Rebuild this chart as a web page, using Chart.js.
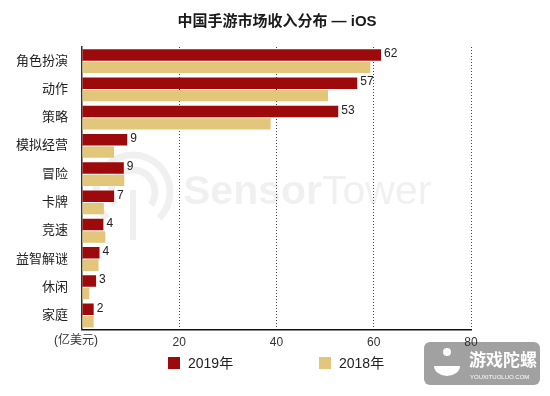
<!DOCTYPE html>
<html>
<head>
<meta charset="utf-8">
<script src="https://cdn.jsdelivr.net/npm/chart.js@4/dist/chart.umd.min.js"></script>
<style>
  html, body { margin: 0; padding: 0; background: #fff; }
  #wrap { width: 550px; height: 396px; position: relative; }
</style>
</head>
<body>
<div id="wrap"><canvas id="iosChart"></canvas></div>
<script>
// data (亿美元)
const categories = ['角色扮演', '动作', '策略', '模拟经营', '冒险', '卡牌', '竞速', '益智解谜', '休闲', '家庭'];
const revenue2019 = [61.5, 56.6, 52.7, 9.3, 8.6, 6.6, 4.4, 3.6, 2.9, 2.4];
const revenue2018 = [59.3, 50.6, 38.8, 6.6, 8.7, 4.5, 4.8, 3.4, 1.5, 2.4];
const labels2019 = [62, 57, 53, 9, 9, 7, 4, 4, 3, 2];
const xTicks = [20, 40, 60, 80];
const seriesNames = ['2019年', '2018年'];
const seriesColors = ['#9c0a0c', '#e2c67c'];
const titleText = '中国手游市场收入分布 — iOS';
const unitText = '(亿美元)';

const FONT = '"Liberation Sans", "Noto Sans CJK SC", sans-serif';

// value labels at the end of the 2019 bars
const valueLabels = {
    id: 'valueLabels',
    afterDatasetsDraw(chart) {
        const ctx = chart.ctx;
        const meta = chart.getDatasetMeta(0);
        ctx.save();
        ctx.font = '12px ' + FONT;
        ctx.fillStyle = '#222';
        ctx.textAlign = 'left';
        ctx.textBaseline = 'middle';
        meta.data.forEach(function(bar, i) {
            ctx.fillText(labels2019[i], bar.x + 3, bar.y - 1);
        });
        ctx.restore();
    }
};

// title, unit label, legend, watermarks
const extras = {
    id: 'extras',
    beforeDraw(chart) {
        const ctx = chart.ctx;
        ctx.save();
        // 游戏陀螺 badge (under the tick labels)
        ctx.fillStyle = 'rgba(140,140,140,0.82)';
        ctx.beginPath();
        ctx.roundRect(424, 342, 116, 43, 6);
        ctx.fill();
        ctx.fillStyle = '#fff';
        ctx.beginPath();
        ctx.ellipse(447, 366, 13, 10, 0, 0, Math.PI);
        ctx.fill();
        ctx.beginPath();
        ctx.arc(447, 352, 4, 0, Math.PI * 2);
        ctx.fill();
        ctx.textBaseline = 'middle';
        ctx.font = 'bold 17px "Noto Sans CJK SC", sans-serif';
        ctx.fillText('游戏陀螺', 469, 360);
        ctx.font = '6px ' + FONT;
        ctx.fillText('YOUXITUOLUO.COM', 470, 377);
        ctx.restore();
    },
    beforeDatasetsDraw(chart) {
        const ctx = chart.ctx;
        ctx.save();
        // SensorTower watermark
        ctx.strokeStyle = 'rgba(0,0,0,0.06)';
        ctx.lineWidth = 7;
        ctx.beginPath();
        ctx.arc(133, 192, 37, Math.PI * 0.75, Math.PI * 2.25);
        ctx.stroke();
        ctx.beginPath();
        ctx.arc(133, 192, 22, Math.PI * 0.8, Math.PI * 2.2);
        ctx.stroke();
        ctx.fillStyle = 'rgba(0,0,0,0.06)';
        ctx.fillRect(130, 190, 6, 50);
        ctx.font = 'bold 41px ' + FONT;
        ctx.textBaseline = 'middle';
        ctx.fillText('Sensor', 183, 193);
        const w = ctx.measureText('Sensor').width;
        ctx.font = '41px ' + FONT;
        ctx.fillText('Tower', 183 + w, 193);
        ctx.restore();
    },
    afterDraw(chart) {
        const ctx = chart.ctx;
        ctx.save();
        // title
        ctx.font = 'bold 15px ' + FONT;
        ctx.fillStyle = '#1a1a1a';
        ctx.textAlign = 'center';
        ctx.textBaseline = 'middle';
        ctx.fillText(titleText, 277, 22);
        // unit
        ctx.font = '12px ' + FONT;
        ctx.fillStyle = '#333';
        ctx.fillText(unitText, 76, 341);
        // legend
        const legendX = [168, 319];
        ctx.font = '14px ' + FONT;
        ctx.textAlign = 'left';
        chart.data.datasets.forEach(function(ds, i) {
            ctx.fillStyle = ds.backgroundColor;
            ctx.fillRect(legendX[i], 357, 12, 12);
            ctx.fillStyle = '#222';
            ctx.fillText(ds.label, legendX[i] + 20, 364);
        });
        ctx.restore();
    }
};

new Chart(document.getElementById('iosChart'), {
    type: 'bar',
    data: {
        labels: categories,
        datasets: [{
            label: seriesNames[0],
            data: revenue2019,
            backgroundColor: seriesColors[0],
            categoryPercentage: 0.88,
            barPercentage: 0.92
        }, {
            label: seriesNames[1],
            data: revenue2018,
            backgroundColor: seriesColors[1],
            categoryPercentage: 0.88,
            barPercentage: 0.92
        }]
    },
    options: {
        indexAxis: 'y',
        responsive: true,
        maintainAspectRatio: false,
        animation: false,
        layout: { padding: { left: 0, right: 79, top: 47, bottom: 40 } },
        plugins: {
            legend: { display: false },
            tooltip: { enabled: false }
        },
        scales: {
            x: {
                min: 0,
                max: 80,
                afterBuildTicks: function(axis) {
                    axis.ticks = [0].concat(xTicks).map(v => ({ value: v }));
                },
                ticks: {
                    color: '#333',
                    font: { family: FONT, size: 12 },
                    padding: 6,
                    maxRotation: 0,
                    callback: v => (v === 0 ? '' : v)
                },
                grid: {
                    color: ctx => (ctx.tick && ctx.tick.value === 0 ? 'rgba(0,0,0,0)' : '#444'),
                    lineWidth: 1,
                    drawTicks: false
                },
                border: { display: true, color: '#111', width: 1.5, dash: [1, 2] }
            },
            y: {
                afterFit: function(axis) { axis.width = 82; },
                ticks: {
                    autoSkip: false,
                    color: '#222',
                    font: { family: FONT, size: 13 },
                    padding: 14
                },
                grid: { display: false, drawTicks: false },
                border: { display: true, color: '#333', width: 1.5 }
            }
        }
    },
    plugins: [valueLabels, extras]
});
</script>
</body>
</html>
